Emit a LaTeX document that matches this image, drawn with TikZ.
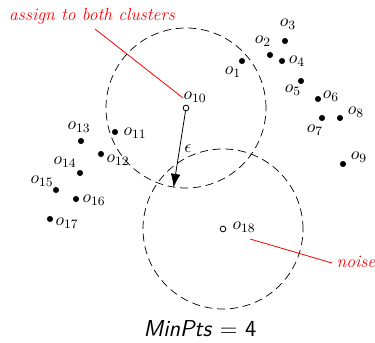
\documentclass[tikz,border=0pt]{standalone}
\usepackage{amsmath, amssymb}
\usepackage{tikz}
\usepackage{xcolor}
\usetikzlibrary{positioning, arrows.meta, calc}
\definecolor{cNote}{HTML}{FF0000}

\tikzset{
  pt/.style={circle, fill=black, inner sep=0pt, minimum size=3.8pt},
  core/.style={circle, draw=black, fill=white, line width=0.5pt, inner sep=0pt, minimum size=3.6pt},
  lbl/.style={inner sep=0pt, font=\fontsize{11}{13}\selectfont},
  eps/.style={dash pattern=on 5pt off 3pt, line width=0.45pt},
  note/.style={font=\fontsize{11}{13}\selectfont\itshape, text=cNote, inner sep=0pt},
}

\begin{document}
\begin{tikzpicture}[x=0.625pt, y=-0.625pt]
  \useasboundingbox (0,0) rectangle (375,343);
  % neighbourhoods
  \draw[eps] (186,108) circle[radius=50pt];
  \draw[eps] (223,229) circle[radius=50pt];
  % upper right group
  \foreach \n/\px/\py/\lx/\ly in {1/242/61/233/72, 2/270/55/263/41, 3/285/41/288/24,
      4/282/61/297/61, 5/301/81/293/90, 6/318/99/331/96, 7/322/118/315/130,
      8/340/118/356/112, 9/343/164/359/157} {
    \node[pt] (o\n) at (\px,\py) {};
    \node[lbl] (t\n) at (\lx,\ly) {$o_{\n}$};
  }
  % left group
  \foreach \n/\px/\py/\lx/\ly in {11/115/132/135/133, 12/101/154/118/160, 13/81/141/79/127,
      14/80/173/65/162, 15/56/190/42/181, 16/76/199/94/200, 17/50/219/67/223} {
    \node[pt] (o\n) at (\px,\py) {};
    \node[lbl] (t\n) at (\lx,\ly) {$o_{\n}$};
  }
  % centres
  \node[core] (o10) at (186,108) {};
  \node[lbl] (t10) at (195,97) {$o_{10}$};
  \node[core] (o18) at (223,229) {};
  \node[lbl] (t18) at (244,227) {$o_{18}$};
  % radius
  \coordinate (rim) at (173.5,187.5);
  \draw[-{Latex[length=8.5pt, width=6pt]}, line width=0.5pt] (o10) -- (rim);
  \node[lbl] (eps) at (188,149) {$\epsilon$};
  % annotations
  \node[note] (both) at (92,16) {assign to both clusters};
  \coordinate (bothA) at (95,29);
  \coordinate (bothB) at (183,98);
  \draw[cNote, line width=0.5pt] (bothA) -- (bothB);
  \node[note] (noise) at (356,262) {noise};
  \coordinate (noiseA) at (250,239);
  \coordinate (noiseB) at (332,263);
  \draw[cNote, line width=0.5pt] (noiseA) -- (noiseB);
  \node[font=\Large\sffamily, inner sep=0pt] (minpts) at (200,329) {\textit{MinPts} $=$ 4};
\end{tikzpicture}
\end{document}
